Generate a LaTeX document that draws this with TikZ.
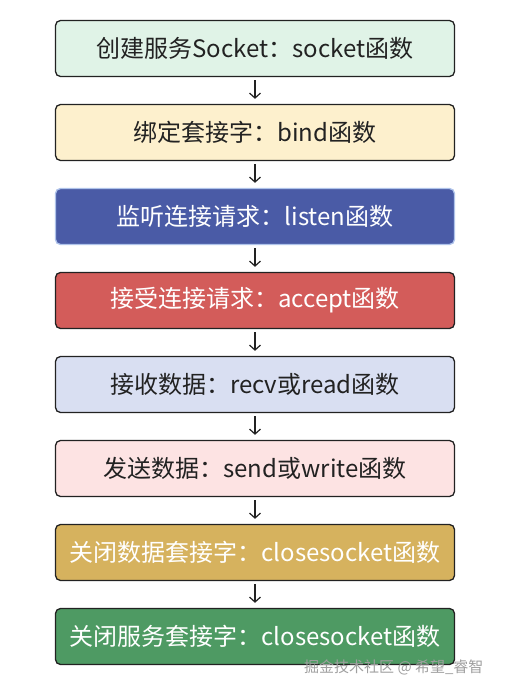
\documentclass[tikz,border=0pt]{standalone}
\usepackage{fontspec}
\setmainfont{Noto Sans CJK SC}
\usetikzlibrary{arrows.meta,positioning}
\definecolor{SockMint}{HTML}{E0F3E7}
\definecolor{SockCream}{HTML}{FDF0CD}
\definecolor{SockBlue}{HTML}{4A5BA6}
\definecolor{SockBlueEdge}{HTML}{AFC3EA}
\definecolor{SockRed}{HTML}{D35C5A}
\definecolor{SockLavender}{HTML}{D9DFF2}
\definecolor{SockPink}{HTML}{FDE3E3}
\definecolor{SockGold}{HTML}{D6B25E}
\definecolor{SockGreen}{HTML}{4E9A63}
\definecolor{SockText}{HTML}{222222}

\begin{document}
\begin{tikzpicture}[
  x=1pt, y=1pt,
  font=\fontsize{24}{28}\selectfont,
  node distance=26.7pt,
  step box/.style={draw=SockText, rounded corners=5pt, line width=1.3pt,
    align=center, minimum height=56pt, minimum width=399pt, text=SockText},
  dark box/.style={step box, text=white},
  arr/.style={-{Straight Barb[length=5pt,width=11pt]}, line width=1.2pt,
    draw=SockText, shorten >=5pt, shorten <=3pt}
]
\useasboundingbox (0,0) rectangle (504,-693);
\node[step box, fill=SockMint] (create) at (255,-48.5) {创建服务Socket：socket函数};
\node[step box, fill=SockCream, below=of create] (bind) {绑定套接字：bind函数};
\node[dark box, fill=SockBlue, draw=SockBlueEdge, below=of bind] (listen) {监听连接请求：listen函数};
\node[dark box, fill=SockRed, below=of listen] (accept) {接受连接请求：accept函数};
\node[step box, fill=SockLavender, below=of accept] (recv) {接收数据：recv或read函数};
\node[step box, fill=SockPink, below=of recv] (send) {发送数据：send或write函数};
\node[dark box, fill=SockGold, below=of send] (closedata) {关闭数据套接字：closesocket函数};
\node[dark box, fill=SockGreen, below=of closedata] (closeserv) {关闭服务套接字：closesocket函数};
\draw[arr] (create) -- (bind);
\draw[arr] (bind) -- (listen);
\draw[arr] (listen) -- (accept);
\draw[arr] (accept) -- (recv);
\draw[arr] (recv) -- (send);
\draw[arr] (send) -- (closedata);
\draw[arr] (closedata) -- (closeserv);
% watermark
\node[font=\fontsize{15}{17}\selectfont, text=gray!75, anchor=east] (mark) at (487,-667) {掘金技术社区 @ 希望\_睿智};
\end{tikzpicture}
\end{document}
